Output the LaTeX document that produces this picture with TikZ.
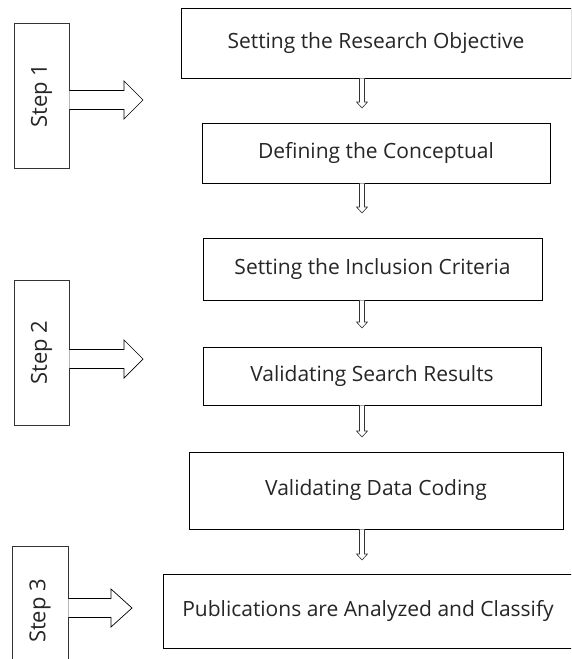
\documentclass[tikz,border=0pt]{standalone}
\usepackage{fontspec}
\setmainfont{Open Sans}
\usetikzlibrary{calc}
\tikzset{
  box/.style={draw=black, line width=0.8pt, inner sep=0pt, text=black!85, font=\fontsize{21}{24}\selectfont},
  stepbox/.style={draw=black!80, line width=0.8pt, inner sep=0pt, text=black!85, font=\fontsize{22}{24}\selectfont},
  blockarr/.style={draw=black, line width=0.7pt, fill=white, line join=miter},
  thinarr/.style={draw=black!80, line width=0.6pt, fill=white, line join=miter}
}
\newcommand{\harrow}[2]{%
  \draw[thinarr] ($(#1)+(-2.5,0)$) -- ($(#2)+(-2.5,-6)$) -- ($(#2)+(-5.5,-6)$) -- (#2)
    -- ($(#2)+(5.5,-6)$) -- ($(#2)+(2.5,-6)$) -- ($(#1)+(2.5,0)$);}
\newcommand{\barrow}[3]{% start, tip, head length
  \draw[blockarr] ($(#1)+(0,-9.5)$) -- ($(#2)+(-#3,-9.5)$) -- ($(#2)+(-#3,-19)$) -- (#2)
    -- ($(#2)+(-#3,19)$) -- ($(#2)+(-#3,9.5)$) -- ($(#1)+(0,9.5)$);}
\begin{document}
\begin{tikzpicture}[x=1pt,y=-1pt]
\clip (0,0) rectangle (571,659);
\fill[white] (0,0) rectangle (571,659);
% main boxes
\node[box, minimum width=390pt, minimum height=70pt] (b1) at (376,43) {Setting the Research Objective};
\node[box, minimum width=348pt, minimum height=60pt] (b2) at (376,153) {Defining the Conceptual};
\node[box, minimum width=339pt, minimum height=62pt] (b3) at (372.5,269) {Setting the Inclusion Criteria};
\node[box, minimum width=338pt, minimum height=58pt] (b4) at (372,376) {Validating Search Results};
\node[box, minimum width=374pt, minimum height=77pt] (b5) at (376,490.5) {Validating Data Coding};
\node[box, minimum width=410pt, minimum height=74pt] (b6) at (368,611) {Publications are Analyzed and Classify};
% step boxes
\node[stepbox, minimum width=55pt, minimum height=145pt] (s1) at (41.5,95.5) {\rotatebox{90}{Step 1}};
\node[stepbox, minimum width=55pt, minimum height=145pt] (s2) at (41.5,352.5) {\rotatebox{90}{Step 2}};
\node[stepbox, minimum width=56pt, minimum height=130pt] (s3) at (40,611) {\rotatebox{90}{Step 3}};
% small hollow arrows
\coordinate (ax) at (362,0);
\coordinate (t1) at (362,108);
\coordinate (t2) at (362,213);
\coordinate (t3) at (362,328);
\coordinate (t4) at (362,437);
\coordinate (t5) at (362,560);
\harrow{b1.south -| ax}{t1}
\harrow{b2.south -| ax}{t2}
\harrow{b3.south -| ax}{t3}
\harrow{b4.south -| ax}{t4}
\harrow{b5.south -| ax}{t5}
% block arrows
\coordinate (p1) at (143,100);
\coordinate (p2) at (143,359);
\coordinate (p3) at (132,608);
\barrow{s1.east |- p1}{p1}{19}
\barrow{s2.east |- p2}{p2}{19}
\barrow{s3.east |- p3}{p3}{21}
\end{tikzpicture}
\end{document}
